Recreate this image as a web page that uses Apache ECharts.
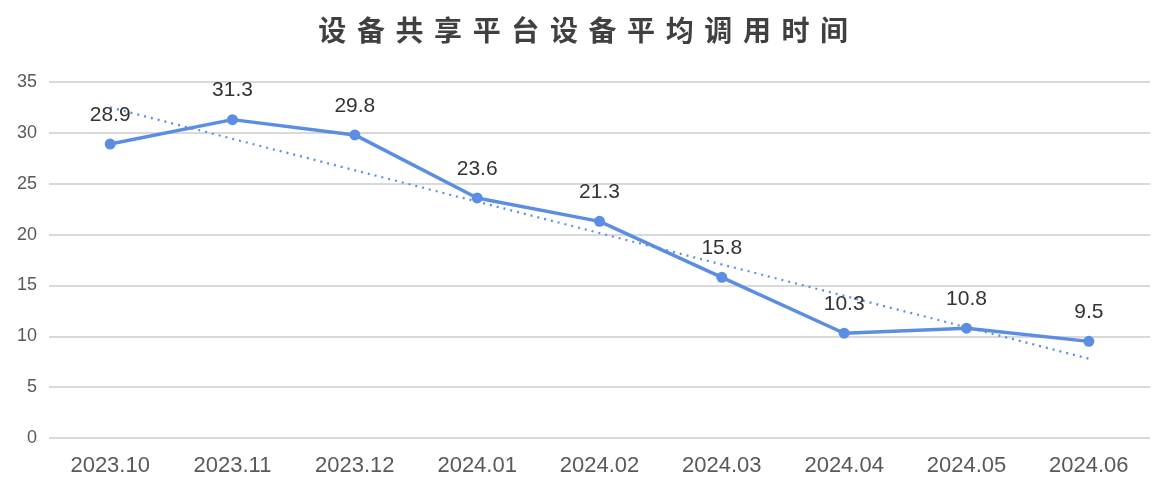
<!DOCTYPE html>
<html>
<head>
<meta charset="utf-8">
<script src="https://cdn.jsdelivr.net/npm/echarts@6/dist/echarts.min.js"></script>
<style>
  html, body { margin: 0; padding: 0; background: #fff; }
  #chart { width: 1174px; height: 496px; }
</style>
</head>
<body>
<div id="chart"></div>
<script>
const titleText = "设备共享平台设备平均调用时间";
const months = ["2023.10", "2023.11", "2023.12", "2024.01", "2024.02", "2024.03", "2024.04", "2024.05", "2024.06"];
const avgTime = [28.9, 31.3, 29.8, 23.6, 21.3, 15.8, 10.3, 10.8, 9.5];
// dotted trend line, ends
const trendEnds = [32.5, 7.8];

const trendData = months.map((m, i) => {
  if (i === 0) return trendEnds[0];
  if (i === months.length - 1) return trendEnds[1];
  return null;
});

// wide letter spacing on the title: each char in its own fixed-width box
const spacedTitle = titleText.split("").map((c) => `{c|${c}}`).join("");

const blue = "#5b8ee3";
const myChart = echarts.init(document.getElementById("chart"));

const option = {
  animation: false,
  title: {
    text: spacedTitle,
    left: 308,
    top: 11,
    textStyle: {
      rich: {
        c: {
          width: 38.6,
          align: "center",
          fontFamily: "Noto Sans CJK SC",
          fontSize: 28,
          fontWeight: "bold",
          color: "#404040",
        },
      },
    },
  },
  grid: {
    left: 49,
    right: 24,
    top: 82,
    bottom: 58,
  },
  xAxis: {
    type: "category",
    data: months,
    boundaryGap: true,
    axisLine: { show: false },
    axisTick: { show: false },
    axisLabel: {
      margin: 17,
      fontSize: 22,
      color: "#595959",
      fontFamily: "Liberation Sans",
    },
  },
  yAxis: {
    type: "value",
    min: 0,
    max: 35,
    interval: 5,
    axisLine: { show: false },
    axisTick: { show: false },
    axisLabel: {
      margin: 12,
      fontSize: 18,
      color: "#595959",
      fontFamily: "Liberation Sans",
    },
    splitLine: {
      lineStyle: { color: "#d9d9d9", width: 2 },
    },
  },
  series: [
    {
      name: "trend",
      type: "line",
      data: trendData,
      connectNulls: true,
      symbol: "none",
      z: 1,
      lineStyle: { color: blue, width: 2.2, type: [2, 5] },
    },
    {
      name: "平均调用时间",
      type: "line",
      data: avgTime,
      symbol: "circle",
      symbolSize: 11,
      z: 3,
      itemStyle: { color: blue },
      lineStyle: { color: blue, width: 3.5 },
      label: {
        show: true,
        position: "top",
        distance: 13,
        fontSize: 21,
        color: "#333333",
        fontFamily: "Liberation Sans",
      },
    },
  ],
};

myChart.setOption(option);
</script>
</body>
</html>
